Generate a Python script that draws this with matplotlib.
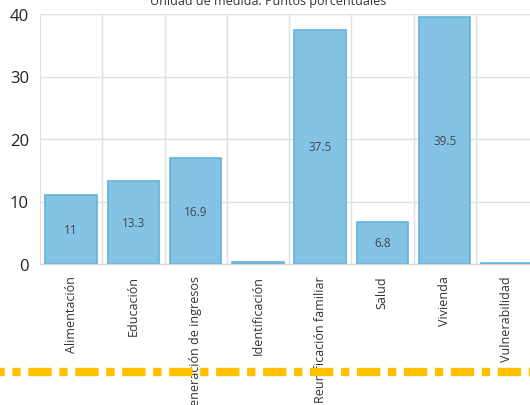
import matplotlib
matplotlib.use('Agg')
import matplotlib.pyplot as plt
from matplotlib.lines import Line2D

plt.rcParams['font.family'] = ['Open Sans', 'DejaVu Sans']
plt.rcParams['lines.scale_dashes'] = False

categorias = ['Alimentación', 'Educación', 'Generación de ingresos', 'Identificación',
              'Reunificación familiar', 'Salud', 'Vivienda', 'Vulnerabilidad']
valores = [11, 13.3, 16.9, 0.4, 37.5, 6.8, 39.5, 0.1]
etiquetas = ['11', '13.3', '16.9', '', '37.5', '6.8', '39.5', '']
titulo = 'Unidad de medida: Puntos porcentuales'

fig = plt.figure(figsize=(5.30, 4.06), dpi=100)
ax = fig.add_axes([40 / 530, 1 - 265 / 406, 498 / 530, 250 / 406])

x = range(len(categorias))
bars = ax.bar(x, valores, width=0.83, color='#84c3e3', edgecolor='#64b1da',
              linewidth=1.2, zorder=2)
for b, lab, v in zip(bars, etiquetas, valores):
    if lab:
        ax.text(b.get_x() + b.get_width() / 2, v / 2, lab, ha='center', va='center',
                fontsize=8.5, color='#404850', zorder=3)

ax.set_xlim(-0.5, len(categorias) - 0.5)
ax.set_ylim(0, 40)
ax.set_yticks([0, 10, 20, 30, 40])
ax.set_xticks(list(x))
ax.set_xticks([i + 0.5 for i in x], minor=True)
ax.set_xticklabels(categorias, rotation=90, fontsize=9, color='#333333', va='top')
ax.tick_params(axis='y', labelsize=12, length=0, pad=8, colors='#222222')
ax.tick_params(axis='x', which='both', length=0, pad=8)
ax.grid(axis='y', color='#e0e0e0', linewidth=1, zorder=0)
ax.grid(axis='x', which='minor', color='#e0e0e0', linewidth=1, zorder=0)
ax.set_axisbelow(True)
for s in ['top', 'right']:
    ax.spines[s].set_visible(False)
ax.spines['left'].set_color('#e0e0e0')
ax.spines['bottom'].set_color('#d8d8d8')

fig.text(268 / 530, 1 - 8 / 406, titulo, ha='center', va='bottom', fontsize=9, color='#333333')

y_line = 1 - 373 / 406
fig.add_artist(Line2D([0, 1], [y_line, y_line], transform=fig.transFigure,
                      color='#FFC000', linewidth=6,
                      linestyle=(13.4, (16.8, 5.5, 6.0, 5.5)), zorder=10))

fig.savefig('out.png', dpi=100)
